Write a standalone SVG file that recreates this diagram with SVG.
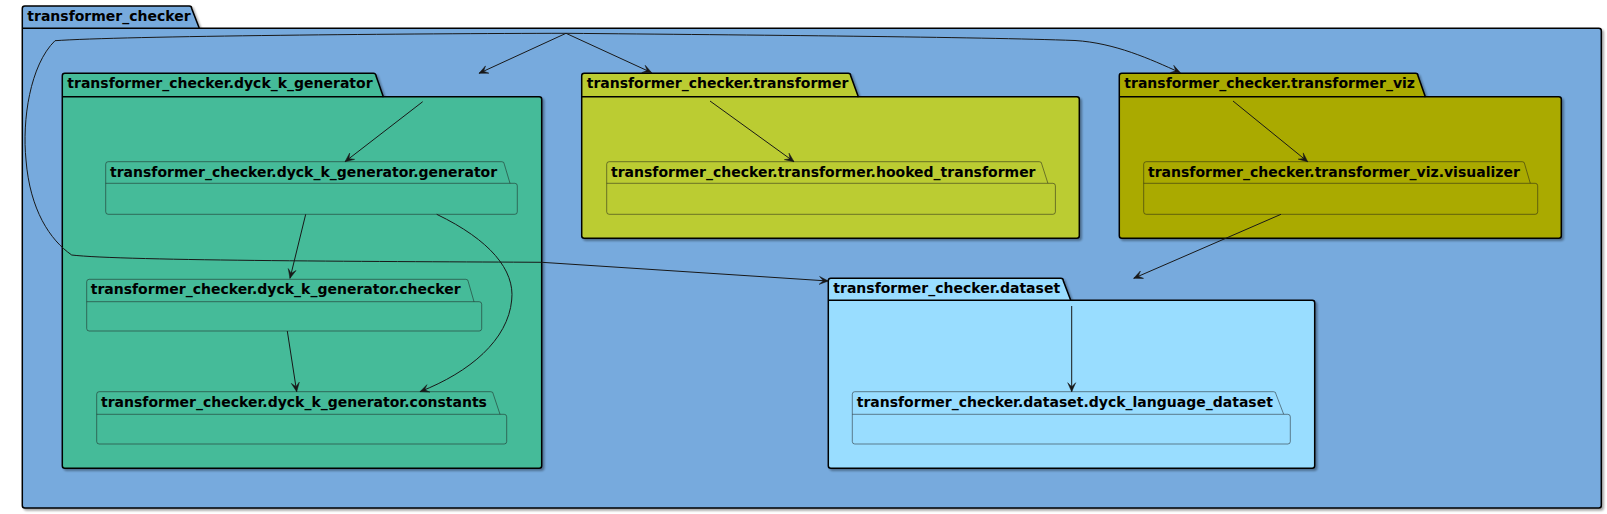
<svg xmlns="http://www.w3.org/2000/svg" width="1607" height="514" viewBox="0 0 1607 514">
<defs>
<style>
.pk{stroke:#000000;stroke-width:1.5;}
.sp{stroke:#181818;stroke-width:0.5;fill:none;}
.lbl{font-family:"DejaVu Sans","Liberation Sans",sans-serif;font-weight:bold;font-size:14px;fill:#000000;}
.edge{fill:none;stroke:#181818;stroke-width:1;}
</style>
<filter id="sh" x="-5%" y="-5%" width="110%" height="115%">
<feGaussianBlur in="SourceAlpha" stdDeviation="1"/>
<feOffset dx="2" dy="2" result="b"/>
<feComponentTransfer><feFuncA type="linear" slope="0.35"/></feComponentTransfer>
<feMerge><feMergeNode/><feMergeNode in="SourceGraphic"/></feMerge>
</filter>
<marker id="ah" viewBox="-10 -5 11 10" refX="0" refY="0" markerWidth="11" markerHeight="10" markerUnits="userSpaceOnUse" orient="auto">
<path d="M0,0 L-9,-4 L-5,0 L-9,4 Z" fill="#181818" stroke="#181818" stroke-width="0.5"/>
</marker>
</defs>

<g id="transformer_checker">
<path class="pk" filter="url(#sh)" fill="#77AADD" d="M24.8,6 L189.2,6 A2.5,2.5 0 0 1 191.7,8.5 L199.3,28.3 L1598.8,28.3 A2.5,2.5 0 0 1 1601.3,30.8 L1601.3,505.5 A2.5,2.5 0 0 1 1598.8,508 L24.8,508 A2.5,2.5 0 0 1 22.3,505.5 L22.3,8.5 A2.5,2.5 0 0 1 24.8,6 Z"/>
<path class="pk" fill="none" d="M22.3,28.3 L199.3,28.3"/>
<text class="lbl" x="27.3" y="21">transformer_checker</text>
</g>

<g id="dyck_k_generator">
<path class="pk" filter="url(#sh)" fill="#44BB99" d="M64.8,73.3 L373.5,73.3 A2.5,2.5 0 0 1 376,75.8 L383.3,96.7 L539.2,96.7 A2.5,2.5 0 0 1 541.7,99.2 L541.7,465.8 A2.5,2.5 0 0 1 539.2,468.3 L64.8,468.3 A2.5,2.5 0 0 1 62.3,465.8 L62.3,75.8 A2.5,2.5 0 0 1 64.8,73.3 Z"/>
<path class="pk" fill="none" d="M62.3,96.7 L383.3,96.7"/>
<text class="lbl" x="67.3" y="88.3">transformer_checker.dyck_k_generator</text>
</g>

<g id="transformer">
<path class="pk" filter="url(#sh)" fill="#BBCC33" d="M584.2,73.3 L848.2,73.3 A2.5,2.5 0 0 1 850.7,75.8 L858.3,96.7 L1076.8,96.7 A2.5,2.5 0 0 1 1079.3,99.2 L1079.3,235.8 A2.5,2.5 0 0 1 1076.8,238.3 L584.2,238.3 A2.5,2.5 0 0 1 581.7,235.8 L581.7,75.8 A2.5,2.5 0 0 1 584.2,73.3 Z"/>
<path class="pk" fill="none" d="M581.7,96.7 L858.3,96.7"/>
<text class="lbl" x="586.7" y="88.3">transformer_checker.transformer</text>
</g>

<g id="transformer_viz">
<path class="pk" filter="url(#sh)" fill="#AAAA00" d="M1121.8,73.3 L1415.5,73.3 A2.5,2.5 0 0 1 1418,75.8 L1425.3,96.7 L1558.8,96.7 A2.5,2.5 0 0 1 1561.3,99.2 L1561.3,235.8 A2.5,2.5 0 0 1 1558.8,238.3 L1121.8,238.3 A2.5,2.5 0 0 1 1119.3,235.8 L1119.3,75.8 A2.5,2.5 0 0 1 1121.8,73.3 Z"/>
<path class="pk" fill="none" d="M1119.3,96.7 L1425.3,96.7"/>
<text class="lbl" x="1124.3" y="88.3">transformer_checker.transformer_viz</text>
</g>

<g id="dataset">
<path class="pk" filter="url(#sh)" fill="#99DDFF" d="M830.8,278.3 L1060.8,278.3 A2.5,2.5 0 0 1 1063.3,280.8 L1070.7,300.3 L1312.2,300.3 A2.5,2.5 0 0 1 1314.7,302.8 L1314.7,465.8 A2.5,2.5 0 0 1 1312.2,468.3 L830.8,468.3 A2.5,2.5 0 0 1 828.3,465.8 L828.3,280.8 A2.5,2.5 0 0 1 830.8,278.3 Z"/>
<path class="pk" fill="none" d="M828.3,300.3 L1070.7,300.3"/>
<text class="lbl" x="833.3" y="293.3">transformer_checker.dataset</text>
</g>

<g id="generator">
<path class="sp" d="M108.2,161.7 L501.8,161.7 A2.5,2.5 0 0 1 504.3,164.2 L510,183.3 L514.8,183.3 A2.5,2.5 0 0 1 517.3,185.8 L517.3,211.8 A2.5,2.5 0 0 1 514.8,214.3 L108.2,214.3 A2.5,2.5 0 0 1 105.7,211.8 L105.7,164.2 A2.5,2.5 0 0 1 108.2,161.7 Z M105.7,183.3 L510,183.3"/>
<text class="lbl" x="110" y="176.7">transformer_checker.dyck_k_generator.generator</text>
</g>

<g id="checker">
<path class="sp" d="M89.2,279.3 L465.8,279.3 A2.5,2.5 0 0 1 468.3,281.8 L474,301.7 L479.2,301.7 A2.5,2.5 0 0 1 481.7,304.2 L481.7,328.5 A2.5,2.5 0 0 1 479.2,331 L89.2,331 A2.5,2.5 0 0 1 86.7,328.5 L86.7,281.8 A2.5,2.5 0 0 1 89.2,279.3 Z M86.7,301.7 L474,301.7"/>
<text class="lbl" x="90.7" y="294.3">transformer_checker.dyck_k_generator.checker</text>
</g>

<g id="constants">
<path class="sp" d="M99.2,391.7 L490.8,391.7 A2.5,2.5 0 0 1 493.3,394.2 L500,414.3 L504.2,414.3 A2.5,2.5 0 0 1 506.7,416.8 L506.7,441.5 A2.5,2.5 0 0 1 504.2,444 L99.2,444 A2.5,2.5 0 0 1 96.7,441.5 L96.7,394.2 A2.5,2.5 0 0 1 99.2,391.7 Z M96.7,414.3 L500,414.3"/>
<text class="lbl" x="101" y="406.7">transformer_checker.dyck_k_generator.constants</text>
</g>

<g id="hooked_transformer">
<path class="sp" d="M609.2,161.7 L1039.3,161.7 A2.5,2.5 0 0 1 1041.8,164.2 L1047.9,183.3 L1052.9,183.3 A2.5,2.5 0 0 1 1055.4,185.8 L1055.4,211.8 A2.5,2.5 0 0 1 1052.9,214.3 L609.2,214.3 A2.5,2.5 0 0 1 606.7,211.8 L606.7,164.2 A2.5,2.5 0 0 1 609.2,161.7 Z M606.7,183.3 L1047.9,183.3"/>
<text class="lbl" x="611" y="176.7">transformer_checker.transformer.hooked_transformer</text>
</g>

<g id="visualizer">
<path class="sp" d="M1146.2,161.7 L1522.2,161.7 A2.5,2.5 0 0 1 1524.7,164.2 L1530.3,183.3 L1535.2,183.3 A2.5,2.5 0 0 1 1537.7,185.8 L1537.7,211.8 A2.5,2.5 0 0 1 1535.2,214.3 L1146.2,214.3 A2.5,2.5 0 0 1 1143.7,211.8 L1143.7,164.2 A2.5,2.5 0 0 1 1146.2,161.7 Z M1143.7,183.3 L1530.3,183.3"/>
<text class="lbl" x="1148" y="176.7">transformer_checker.transformer_viz.visualizer</text>
</g>

<g id="dyck_language_dataset">
<path class="sp" d="M854.8,391.7 L1273.5,391.7 A2.5,2.5 0 0 1 1276,394.2 L1283.7,414.3 L1287.8,414.3 A2.5,2.5 0 0 1 1290.3,416.8 L1290.3,441.5 A2.5,2.5 0 0 1 1287.8,444 L854.8,444 A2.5,2.5 0 0 1 852.3,441.5 L852.3,394.2 A2.5,2.5 0 0 1 854.8,391.7 Z M852.3,414.3 L1283.7,414.3"/>
<text class="lbl" x="856.7" y="406.7">transformer_checker.dataset.dyck_language_dataset</text>
</g>

<g id="connectors">
<path class="edge" marker-end="url(#ah)" d="M566,33.3 L479,73.3"/>
<path class="edge" marker-end="url(#ah)" d="M566,33.3 L651.7,72.7"/>
<path class="edge" marker-end="url(#ah)" d="M566,33.3 C750,35 980,37 1075,40.5 C1115,43 1150,59 1180.3,72.7"/>
<path class="edge" marker-end="url(#ah)" d="M566,33.3 C420,33.5 120,36 55,40.7 C30,65 22,120 26,160 C30,210 50,240 71.7,255 C120,261 400,261.5 541.7,262.3 L828.3,281"/>
<path class="edge" marker-end="url(#ah)" d="M422.7,101.7 L345,161.7"/>
<path class="edge" marker-end="url(#ah)" d="M305.7,214.3 L290,278.3"/>
<path class="edge" marker-end="url(#ah)" d="M436.7,214.3 C490,240 515,270 511.7,300 C508,340 470,372 420,391.7"/>
<path class="edge" marker-end="url(#ah)" d="M287.3,331 L296.7,391.7"/>
<path class="edge" marker-end="url(#ah)" d="M710,101 L794,161.7"/>
<path class="edge" marker-end="url(#ah)" d="M1233,101 L1307.7,161.7"/>
<path class="edge" marker-end="url(#ah)" d="M1281,214.3 L1133.7,278.3"/>
<path class="edge" marker-end="url(#ah)" d="M1071.7,306 L1071.7,391.7"/>
</g>
</svg>
